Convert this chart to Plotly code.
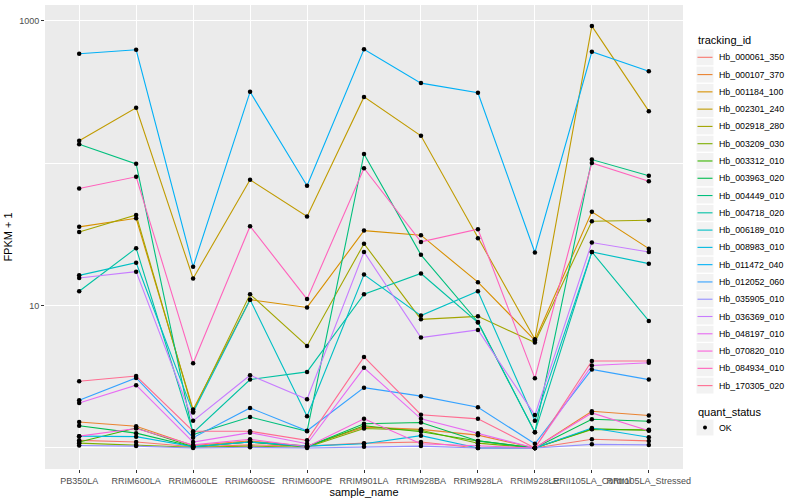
import plotly.graph_objects as go

samples = ["PB350LA", "RRIM600LA", "RRIM600LE", "RRIM600SE", "RRIM600PE", "RRIM901LA",
           "RRIM928BA", "RRIM928LA", "RRIM928LE", "RRII105LA_Control", "RRII105LA_Stressed"]

tracking_ids = ["Hb_000061_350", "Hb_000107_370", "Hb_001184_100", "Hb_002301_240", "Hb_002918_280",
                "Hb_003209_030", "Hb_003312_010", "Hb_003963_020", "Hb_004449_010", "Hb_004718_020",
                "Hb_006189_010", "Hb_008983_010", "Hb_011472_040", "Hb_012052_060", "Hb_035905_010",
                "Hb_036369_010", "Hb_048197_010", "Hb_070820_010", "Hb_084934_010", "Hb_170305_020"]

colors = ["#F8766D", "#EA8331", "#D89000", "#C09B00", "#A3A500", "#7CAE00", "#39B600", "#00BB4E",
          "#00BF7D", "#00C1A3", "#00BFC4", "#00BAE0", "#00B0F6", "#35A2FF", "#9590FF", "#C77CFF",
          "#E76BF3", "#FA62DB", "#FF62BC", "#FF6C91"]

# FPKM + 1 values, one list per tracking_id, in sample order
Hb_000061_350 = [1.13, 1.10, 1.02, 1.05, 1.03, 1.08, 1.10, 1.00, 1.00, 1.15, 1.12]
Hb_000107_370 = [1.52, 1.42, 1.04, 1.12, 1.03, 1.40, 1.35, 1.23, 1.00, 1.81, 1.69]
Hb_001184_100 = [35.7, 41.0, 1.86, 11.0, 9.7, 33.6, 31.2, 14.6, 5.7, 45.5, 25.1]
Hb_002301_240 = [143.6, 245, 15.5, 76.4, 42.2, 292, 155.6, 29.7, 5.8, 918, 232]
Hb_002918_280 = [32.9, 43.3, 1.81, 12.0, 5.2, 27.2, 8.0, 8.4, 5.5, 39.1, 39.7]
Hb_003209_030 = [1.08, 1.05, 1.01, 1.03, 1.01, 1.37, 1.33, 1.08, 1.00, 1.35, 1.34]
Hb_003312_010 = [1.10, 1.38, 1.02, 1.10, 1.02, 1.43, 1.30, 1.12, 1.00, 1.36, 1.33]
Hb_003963_020 = [1.43, 1.27, 1.02, 1.10, 1.02, 1.48, 1.51, 1.12, 1.00, 1.59, 1.54]
Hb_004449_010 = [136, 98.9, 1.24, 1.65, 1.31, 116, 22.7, 7.67, 1.29, 106, 81.5]
Hb_004718_020 = [12.6, 25.3, 1.28, 3.02, 3.42, 12.0, 16.8, 7.6, 1.29, 23.8, 7.8]
Hb_006189_010 = [16.3, 20.0, 1.77, 11.0, 1.67, 16.5, 8.5, 12.6, 1.55, 23.8, 19.7]
Hb_008983_010 = [1.21, 1.20, 1.02, 1.10, 1.03, 1.07, 1.22, 1.00, 1.00, 1.38, 1.19]
Hb_011472_040 = [587, 626, 18.7, 317, 69.4, 632, 365, 312, 23.6, 606, 443]
Hb_012052_060 = [2.16, 3.10, 1.18, 1.91, 1.32, 2.65, 2.31, 1.93, 1.07, 3.56, 3.02]
Hb_035905_010 = [1.04, 1.03, 1.00, 1.01, 1.00, 1.02, 1.03, 1.00, 1.00, 1.06, 1.05]
Hb_036369_010 = [15.6, 17.3, 1.55, 3.24, 2.20, 23.8, 5.96, 6.74, 1.70, 27.7, 23.8]
Hb_048197_010 = [2.07, 2.76, 1.10, 1.28, 1.07, 3.65, 1.60, 1.27, 1.00, 3.79, 3.97]
Hb_070820_010 = [1.21, 1.37, 1.05, 1.15, 1.02, 1.60, 1.07, 1.04, 1.00, 1.76, 1.32]
Hb_084934_010 = [66.4, 80.2, 3.93, 36.1, 11.1, 92.2, 28.0, 34.4, 3.09, 100.4, 74.6]
Hb_170305_020 = [2.94, 3.20, 1.31, 1.31, 1.13, 4.36, 1.71, 1.60, 1.00, 4.08, 4.08]

series = [Hb_000061_350, Hb_000107_370, Hb_001184_100, Hb_002301_240, Hb_002918_280,
          Hb_003209_030, Hb_003312_010, Hb_003963_020, Hb_004449_010, Hb_004718_020,
          Hb_006189_010, Hb_008983_010, Hb_011472_040, Hb_012052_060, Hb_035905_010,
          Hb_036369_010, Hb_048197_010, Hb_070820_010, Hb_084934_010, Hb_170305_020]

quant_status = ["OK"]

FONT = "Liberation Sans, Arial, sans-serif"
W, H = 800, 500
ML, MR, MT, MB = 45, 117, 5, 31
PW, PH = W - ML - MR, H - MT - MB


def px(xp):
    return (xp - ML) / PW


def py(yp):
    return (H - MB - yp) / PH


fig = go.Figure()
for name, col, vals in zip(tracking_ids, colors, series):
    fig.add_trace(go.Scatter(x=samples, y=vals, mode="lines", name=name,
                             line=dict(color=col, width=1.1), showlegend=False))

all_x = [s for vals in series for s in samples]
all_y = [v for vals in series for v in vals]
fig.add_trace(go.Scatter(x=all_x, y=all_y, mode="markers", name=quant_status[0],
                         marker=dict(color="black", size=4.5), showlegend=False))

# ---- hand-built legends (ggplot style keys) ----
shapes = []
annotations = []
key_x0, key_x1 = 696.5, 713.5
text_x = 716.5
step = 17.28
first_c = 57.3

annotations.append(dict(text="tracking_id", x=px(696), y=py(40.5), xref="paper", yref="paper",
                        xanchor="left", yanchor="middle", showarrow=False,
                        font=dict(size=11, color="black", family=FONT)))
for i, (name, col) in enumerate(zip(tracking_ids, colors)):
    c = first_c + step * i
    shapes.append(dict(type="rect", xref="paper", yref="paper",
                       x0=px(key_x0), x1=px(key_x1), y0=py(c - step / 2 + 0.7), y1=py(c + step / 2 - 0.7),
                       fillcolor="#F2F2F2", line=dict(width=0), layer="above"))
    shapes.append(dict(type="line", xref="paper", yref="paper",
                       x0=px(key_x0 + 1), x1=px(key_x1 - 1), y0=py(c), y1=py(c),
                       line=dict(color=col, width=1.1), layer="above"))
    annotations.append(dict(text=name, x=px(text_x), y=py(c), xref="paper", yref="paper",
                            xanchor="left", yanchor="middle", showarrow=False,
                            font=dict(size=8.8, color="black", family=FONT)))

annotations.append(dict(text="quant_status", x=px(696), y=py(411.5), xref="paper", yref="paper",
                        xanchor="left", yanchor="middle", showarrow=False,
                        font=dict(size=11, color="black", family=FONT)))
ok_c = 427.5
shapes.append(dict(type="rect", xref="paper", yref="paper",
                   x0=px(key_x0), x1=px(key_x1), y0=py(ok_c - step / 2 + 0.7), y1=py(ok_c + step / 2 - 0.7),
                   fillcolor="#F2F2F2", line=dict(width=0), layer="above"))
shapes.append(dict(type="circle", xref="paper", yref="paper",
                   x0=px(703), x1=px(707), y0=py(ok_c - 2), y1=py(ok_c + 2),
                   fillcolor="black", line=dict(width=0), layer="above"))
annotations.append(dict(text=quant_status[0], x=px(text_x), y=py(ok_c), xref="paper", yref="paper",
                        xanchor="left", yanchor="middle", showarrow=False,
                        font=dict(size=8.8, color="black", family=FONT)))

fig.update_layout(
    width=W, height=H,
    margin=dict(l=ML, r=MR, t=MT, b=MB, autoexpand=False),
    paper_bgcolor="white", plot_bgcolor="#EBEBEB",
    font=dict(family=FONT, color="black"),
    showlegend=False,
    shapes=shapes, annotations=annotations,
    xaxis=dict(type="category", categoryorder="array", categoryarray=samples,
               range=[-0.6, 10.6], showgrid=True, gridcolor="white", gridwidth=1.1,
               ticks="outside", ticklen=3, tickcolor="#333333", tickangle=0,
               tickfont=dict(size=9, color="#4D4D4D"), zeroline=False, showline=False,
               automargin=False,
               title=dict(text="sample_name", font=dict(size=11), standoff=0)),
    yaxis=dict(type="log", range=[-0.148, 3.111], tickmode="array", tickvals=[10, 1000],
               ticktext=["10", "1000"], showgrid=True, gridcolor="white", gridwidth=1.1,
               ticks="outside", ticklen=3, tickcolor="#333333",
               tickfont=dict(size=9, color="#4D4D4D"), zeroline=False, showline=False,
               automargin=False,
               minor=dict(tickmode="array", tickvals=[1, 100], showgrid=True,
                          gridcolor="white", gridwidth=0.6, ticks=""),
               title=dict(text="FPKM + 1", font=dict(size=11), standoff=4)),
)

fig.write_html("out.html", config={"displayModeBar": False},
               post_script="document.body.style.margin='0px';document.body.style.padding='0px';")
